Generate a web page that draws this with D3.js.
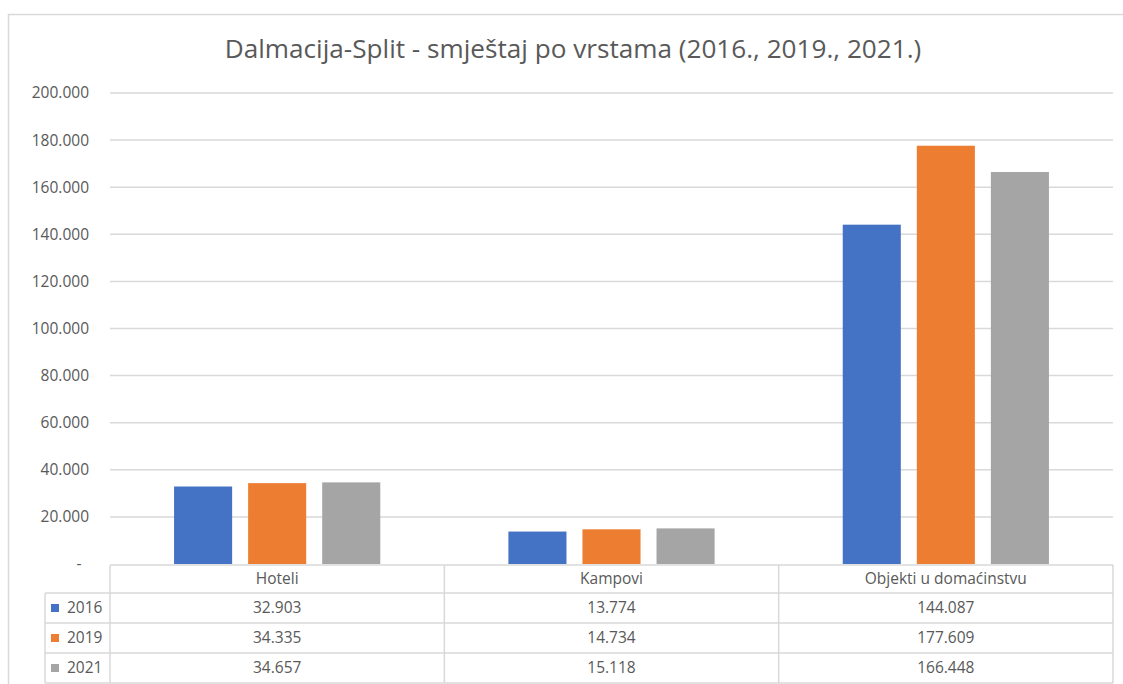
<!DOCTYPE html>
<html>
<head>
<meta charset="utf-8">
<script src="https://cdn.jsdelivr.net/npm/d3@7"></script>
<style>
    body { margin: 0; background: #fff; }
    svg { display: block; font-family: "Open Sans", "Noto Sans", sans-serif; }
    .grid line { stroke: #d9d9d9; stroke-width: 1.5; }
    .txt { fill: #595959; }
</style>
</head>
<body>
<svg id="chart" width="1123" height="684"></svg>
<script>
// data
var title = "Dalmacija-Split - smještaj po vrstama (2016., 2019., 2021.)";
var categories = ["Hoteli", "Kampovi", "Objekti u domaćinstvu"];
var years = ["2016", "2019", "2021"];
var v2016 = [32903, 13774, 144087];
var v2019 = [34335, 14734, 177609];
var v2021 = [34657, 15118, 166448];
var yTicks = [0, 20000, 40000, 60000, 80000, 100000, 120000, 140000, 160000, 180000, 200000];
var colors = ["#4472c4", "#ed7d31", "#a5a5a5"];

var series = [v2016, v2019, v2021];

// ============================================================================

var plotL = 110, plotR = 1113, plotT = 93, plotB = 564;
var fontSz = "15.5px";
var svg = d3.select("#chart");

// outer chart border
svg.append("rect")
    .attr("x", 8.5).attr("y", 14.5)
    .attr("width", 1130).attr("height", 700)
    .attr("fill", "none")
    .attr("stroke", "#d9d9d9")
    .attr("stroke-width", 1.5);

var fmt = function (v) {
    if (v == 0) return "-";
    return d3.format(",")(v).replace(/,/g, ".");
};

var xScale = d3.scaleBand()
    .domain(categories)
    .range([plotL, plotR]);
var xInner = d3.scaleBand()
    .domain(years)
    .range([0, xScale.bandwidth()])
    .paddingInner(0.216)
    .paddingOuter(0.865);
var yScale = d3.scaleLinear()
    .domain([0, 200000])
    .range([plotB, plotT]);

// title
var t = svg.append("text")
    .attr("class", "txt")
    .attr("x", 573)
    .attr("y", 58)
    .attr("text-anchor", "middle")
    .style("font-size", "24px")
    .text(title);
var tl = t.node().getComputedTextLength();
t.style("font-size", (24 * 697 / tl) + "px");

// gridlines
svg.append("g")
    .attr("class", "grid")
    .selectAll("line")
    .data(yTicks.filter(d => d > 0))
    .enter()
    .append("line")
    .attr("x1", plotL).attr("x2", plotR)
    .attr("y1", d => yScale(d)).attr("y2", d => yScale(d));

// y axis labels
var yAxis = d3.axisLeft(yScale)
    .tickValues(yTicks)
    .tickFormat(fmt)
    .tickSize(0)
    .tickPadding(21);
var ga = svg.append("g")
    .attr("transform", `translate(${plotL},0)`)
    .call(yAxis);
ga.select(".domain").remove();
ga.selectAll("text")
    .attr("class", "txt")
    .style("font-family", "Open Sans, sans-serif")
    .style("font-size", fontSz)
    .attr("x", d => d == 0 ? -31 : -21)
    .attr("text-anchor", d => d == 0 ? "middle" : "end");

// bars
var groups = svg.append("g")
    .selectAll("g")
    .data(categories)
    .enter()
    .append("g")
    .attr("transform", d => `translate(${xScale(d)},0)`);
groups.selectAll("rect")
    .data((d, i) => years.map((y, j) => ({ year: y, value: series[j][i], c: colors[j] })))
    .enter()
    .append("rect")
    .attr("x", d => xInner(d.year))
    .attr("width", xInner.bandwidth())
    .attr("y", d => yScale(d.value))
    .attr("height", d => plotB - yScale(d.value))
    .attr("fill", d => d.c);

// data table
var headH = 29, rowH = 30;
var legLeft = 45;
var tbl = svg.append("g");
var lineStyle = function (sel) {
    return sel.attr("stroke", "#d9d9d9").attr("stroke-width", 1.5);
};
lineStyle(tbl.append("line")
    .attr("x1", plotL).attr("x2", plotR)
    .attr("y1", plotB + 1).attr("y2", plotB + 1));
for (var r = 0; r <= years.length; r++) {
    var yy = plotB + headH + r * rowH;
    lineStyle(tbl.append("line")
        .attr("x1", legLeft).attr("x2", plotR)
        .attr("y1", yy).attr("y2", yy));
}
var tblBottom = plotB + headH + years.length * rowH;
lineStyle(tbl.append("line")
    .attr("x1", legLeft).attr("x2", legLeft)
    .attr("y1", plotB + headH).attr("y2", tblBottom));
var vx = categories.map(c => xScale(c)).concat([plotR]);
tbl.selectAll("line.v")
    .data(vx)
    .enter()
    .append("line")
    .attr("class", "v")
    .attr("x1", d => d).attr("x2", d => d)
    .attr("y1", plotB + 1).attr("y2", tblBottom)
    .call(lineStyle);

// header labels
tbl.selectAll("text.head")
    .data(categories)
    .enter()
    .append("text")
    .attr("class", "txt head")
    .attr("x", d => xScale(d) + xScale.bandwidth() / 2)
    .attr("y", plotB + headH / 2 + 5)
    .attr("text-anchor", "middle")
    .style("font-size", fontSz)
    .text(d => d);

// rows
years.forEach(function (y, j) {
    var cy = plotB + headH + j * rowH + rowH / 2;
    tbl.append("rect")
        .attr("x", 51).attr("y", cy - 4)
        .attr("width", 8).attr("height", 8)
        .attr("fill", colors[j]);
    tbl.append("text")
        .attr("class", "txt")
        .attr("x", 67).attr("y", cy + 5)
        .style("font-size", fontSz)
        .text(y);
    tbl.selectAll("text.r" + j)
        .data(categories)
        .enter()
        .append("text")
        .attr("class", "txt r" + j)
        .attr("x", d => xScale(d) + xScale.bandwidth() / 2)
        .attr("y", cy + 5)
        .attr("text-anchor", "middle")
        .style("font-size", fontSz)
        .text((d, i) => fmt(series[j][i]));
});
</script>
</body>
</html>
